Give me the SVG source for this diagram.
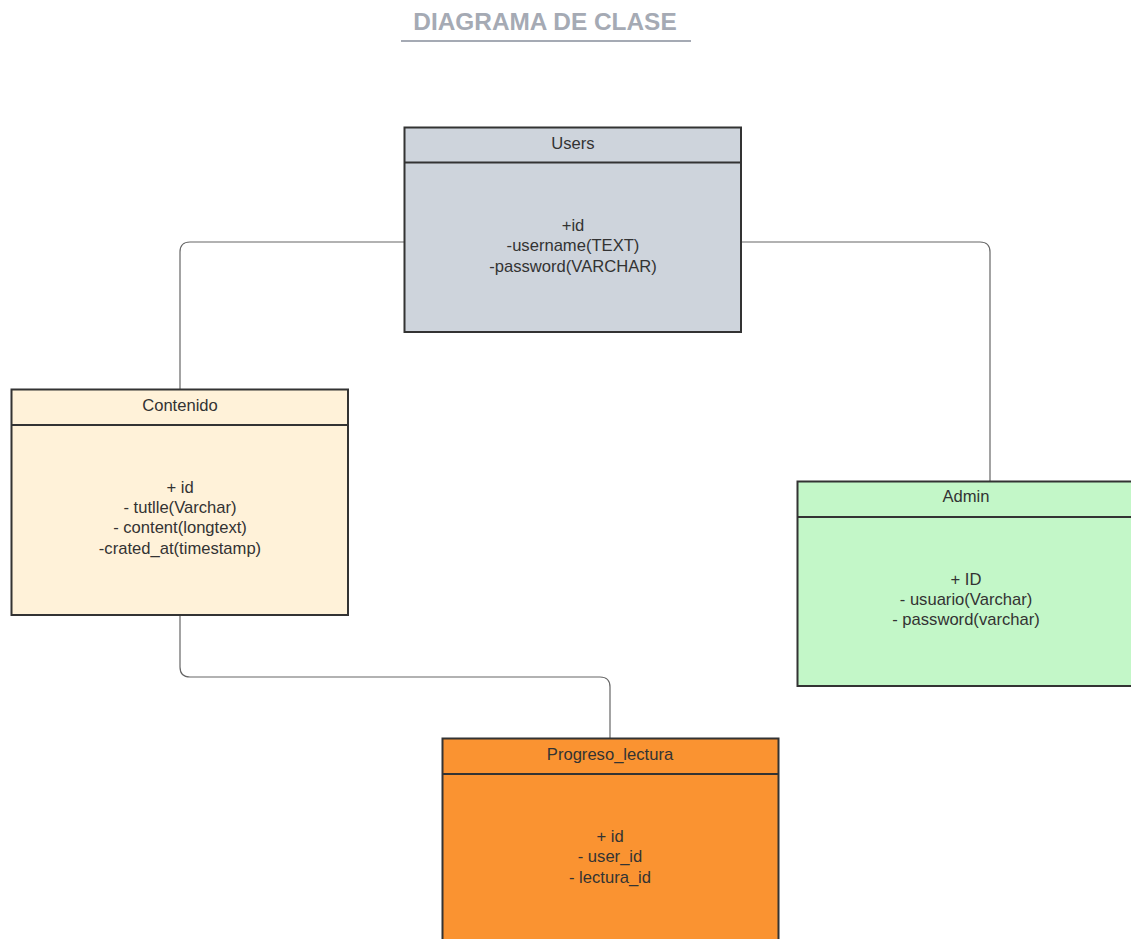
<svg xmlns="http://www.w3.org/2000/svg" width="1131" height="939" viewBox="0 0 1131 939">
<style>
.box{stroke:#333;stroke-width:2}
.t{font-family:"Liberation Sans",Arial,sans-serif;font-size:16.6px;fill:#333;text-anchor:middle}
.c{fill:none;stroke:#666;stroke-width:1.2}
.title{font-family:"Liberation Sans",Arial,sans-serif;font-size:24.4px;font-weight:bold;fill:#a5aab4;text-anchor:middle}
</style>
<rect width="1131" height="939" fill="#fff"/>
<text class="title" x="545" y="30">DIAGRAMA DE CLASE</text>
<line x1="401" y1="41" x2="691" y2="41" stroke="#a5aab4" stroke-width="2"/>
<g id="connectors">
<path class="c" d="M404,242 H190 Q180,242 180,252 V389"/>
<path class="c" d="M741,242 H980 Q990,242 990,252 V481"/>
<path class="c" d="M180,615 V667 Q180,677 190,677 H600 Q610,677 610,687 V738"/>
</g>
<g id="users">
<rect class="box" x="404.5" y="127.5" width="336.5" height="204.5" fill="#ced4dc"/>
<line class="box" x1="404.5" y1="162.5" x2="741" y2="162.5"/>
<text class="t" x="573" y="149">Users</text>
<text class="t" x="573" y="231">+id</text>
<text class="t" x="573" y="251">-username(TEXT)</text>
<text class="t" x="573" y="272">-password(VARCHAR)</text>
</g>
<g id="contenido">
<rect class="box" x="11.5" y="389.5" width="336.5" height="225.5" fill="#fff2d9"/>
<line class="box" x1="11.5" y1="425" x2="348" y2="425"/>
<text class="t" x="180" y="411">Contenido</text>
<text class="t" x="180" y="493">+ id</text>
<text class="t" x="180" y="513">- tutlle(Varchar)</text>
<text class="t" x="180" y="533">- content(longtext)</text>
<text class="t" x="180" y="554">-crated_at(timestamp)</text>
</g>
<g id="admin">
<rect class="box" x="797.5" y="481.5" width="340" height="204.5" fill="#c3f7c8"/>
<line class="box" x1="797.5" y1="517" x2="1137" y2="517"/>
<text class="t" x="966" y="502">Admin</text>
<text class="t" x="966" y="585">+ ID</text>
<text class="t" x="966" y="605">- usuario(Varchar)</text>
<text class="t" x="966" y="625">- password(varchar)</text>
</g>
<g id="progreso_lectura">
<rect class="box" x="442.5" y="738.5" width="336" height="210" fill="#fa9331"/>
<line class="box" x1="442.5" y1="774" x2="778.5" y2="774"/>
<text class="t" x="610" y="760">Progreso_lectura</text>
<text class="t" x="610" y="842">+ id</text>
<text class="t" x="610" y="862">- user_id</text>
<text class="t" x="610" y="883">- lectura_id</text>
</g>
</svg>
